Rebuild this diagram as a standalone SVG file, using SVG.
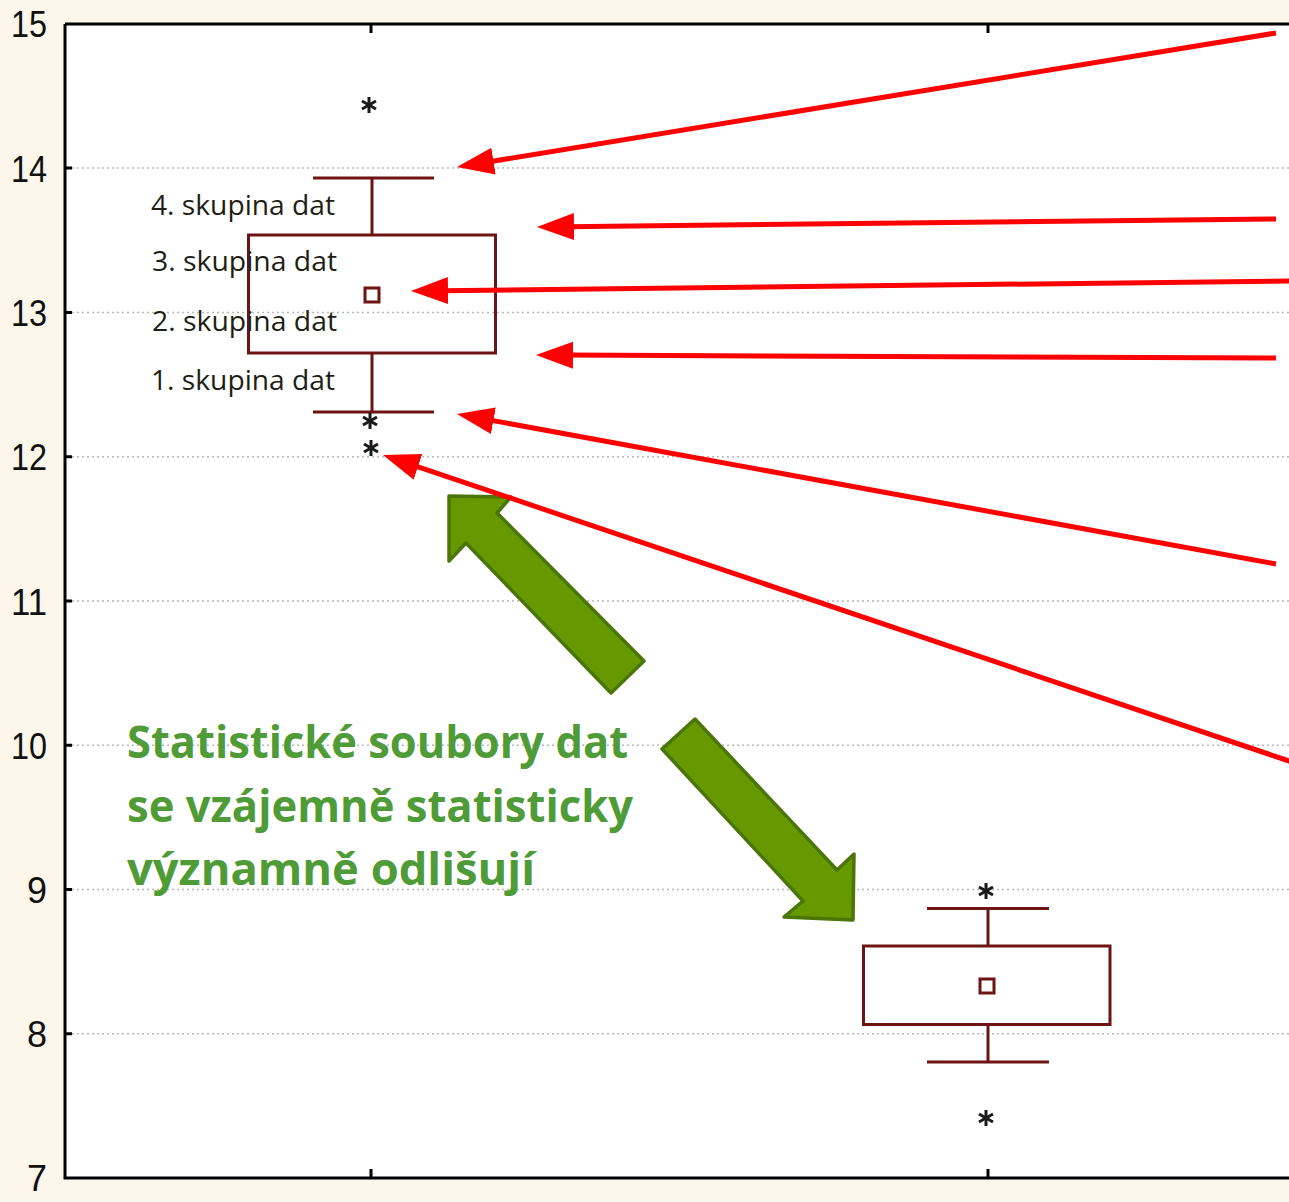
<svg xmlns="http://www.w3.org/2000/svg" width="1289" height="1202" viewBox="0 0 1289 1202">
<style>
.axl{font-family:"Liberation Sans",Arial,sans-serif;font-size:36px;fill:#111;text-anchor:end}
.grid{stroke:#b8b8b8;stroke-width:1.5;stroke-dasharray:2 3;fill:none}
.tick{stroke:#000;stroke-width:3;fill:none}
.bx{stroke:#6e1414;stroke-width:3;fill:none}
.grp{font-family:"Open Sans","Noto Sans",sans-serif;font-size:27px;fill:#1e1e14}
.note{font-family:"Open Sans","Noto Sans",sans-serif;font-weight:bold;font-size:44px;fill:#4f9b38}
.red{stroke:#ff0000;stroke-width:5;fill:none;marker-end:url(#rh)}
.garrow{fill:#669900;stroke:#4b7508;stroke-width:3.5;stroke-linejoin:round}
.ast{stroke:#1a1a1a;stroke-width:3;fill:none}
</style>
<defs>
<marker id="rh" markerUnits="userSpaceOnUse" markerWidth="40" markerHeight="30" refX="7" refY="13.5" orient="auto">
<path d="M0,0 L37,13.5 L0,27 z" fill="#ff0000"/>
</marker>
<g id="star" class="ast">
<line x1="0" y1="-8" x2="0" y2="8"/>
<line x1="-7" y1="-4" x2="7" y2="4"/>
<line x1="-7" y1="4" x2="7" y2="-4"/>
</g>
</defs>
<rect x="0" y="0" width="1289" height="1202" fill="#fcf7ea"/>
<rect x="65" y="24" width="1230" height="1154" fill="#ffffff"/>
<g id="grid">
<line class="grid" x1="72" y1="168" x2="1289" y2="168"/>
<line class="grid" x1="72" y1="312.5" x2="1289" y2="312.5"/>
<line class="grid" x1="72" y1="456.75" x2="1289" y2="456.75"/>
<line class="grid" x1="72" y1="601" x2="1289" y2="601"/>
<line class="grid" x1="72" y1="745.25" x2="1289" y2="745.25"/>
<line class="grid" x1="72" y1="889.5" x2="1289" y2="889.5"/>
<line class="grid" x1="72" y1="1033.75" x2="1289" y2="1033.75"/>
</g>
<g id="axes">
<path class="tick" d="M65,24 L1289,24 M65,24 L65,1178 L1289,1178"/>
<path class="tick" d="M65,168 H72 M65,312.5 H72 M65,456.75 H72 M65,601 H72 M65,745.25 H72 M65,889.5 H72 M65,1033.75 H72 M371,24 V33 M988,24 V33 M371,1178 V1169 M988,1178 V1169"/>
<text class="axl" x="47" y="37" textLength="36" lengthAdjust="spacingAndGlyphs">15</text>
<text class="axl" x="47" y="181.5" textLength="36" lengthAdjust="spacingAndGlyphs">14</text>
<text class="axl" x="47" y="326" textLength="36" lengthAdjust="spacingAndGlyphs">13</text>
<text class="axl" x="47" y="470" textLength="36" lengthAdjust="spacingAndGlyphs">12</text>
<text class="axl" x="47" y="614.5" textLength="36" lengthAdjust="spacingAndGlyphs">11</text>
<text class="axl" x="47" y="758.5" textLength="36" lengthAdjust="spacingAndGlyphs">10</text>
<text class="axl" x="47" y="903">9</text>
<text class="axl" x="47" y="1047">8</text>
<text class="axl" x="47" y="1191">7</text>
</g>
<g id="box1">
<path class="bx" d="M313,178 H434 M372,178 V235 M372,353 V412 M313,412 H434"/>
<rect class="bx" x="248.5" y="235" width="247" height="118"/>
<rect class="bx" x="365" y="288" width="14" height="14"/>
<use href="#star" x="369" y="105"/>
<use href="#star" x="370" y="421"/>
<use href="#star" x="371" y="448"/>
</g>
<g id="box2">
<path class="bx" d="M927,908.5 H1049 M988,908.5 V946 M988,1024.5 V1062 M927,1062 H1049"/>
<rect class="bx" x="863.5" y="946" width="246.5" height="78.5"/>
<rect class="bx" x="980" y="979" width="14" height="14"/>
<use href="#star" x="986" y="891"/>
<use href="#star" x="986" y="1118"/>
</g>
<g id="labels">
<text class="grp" x="151" y="215" textLength="184" lengthAdjust="spacingAndGlyphs">4. skupina dat</text>
<text class="grp" x="152" y="271" textLength="185" lengthAdjust="spacingAndGlyphs">3. skupina dat</text>
<text class="grp" x="152" y="331" textLength="185" lengthAdjust="spacingAndGlyphs">2. skupina dat</text>
<text class="grp" x="151" y="390" textLength="184" lengthAdjust="spacingAndGlyphs">1. skupina dat</text>
</g>
<g id="note">
<text class="note" x="127" y="758" textLength="501" lengthAdjust="spacingAndGlyphs">Statistické soubory dat</text>
<text class="note" x="127" y="822" textLength="506" lengthAdjust="spacingAndGlyphs">se vzájemně statisticky</text>
<text class="note" x="127" y="885" textLength="408" lengthAdjust="spacingAndGlyphs">významně odlišují</text>
</g>
<g id="green-arrows">
<polygon class="garrow" points="449,496 511,497 497,513 644,661 611,693 466,543 449,561"/>
<polygon class="garrow" points="695,719 837,870 854,854 853,920 784,917 803,901 662,749"/>
</g>
<g id="connectors">
<line class="red" x1="1276" y1="33" x2="486.6" y2="162.2"/>
<line class="red" x1="1276" y1="219" x2="567" y2="226.7"/>
<line class="red" x1="1292" y1="281" x2="441" y2="290.7"/>
<line class="red" x1="1276" y1="358" x2="566" y2="355.1"/>
<line class="red" x1="1276" y1="564" x2="486.5" y2="419.4"/>
<line class="red" x1="1292" y1="762" x2="411.4" y2="464.6"/>
</g>
</svg>
